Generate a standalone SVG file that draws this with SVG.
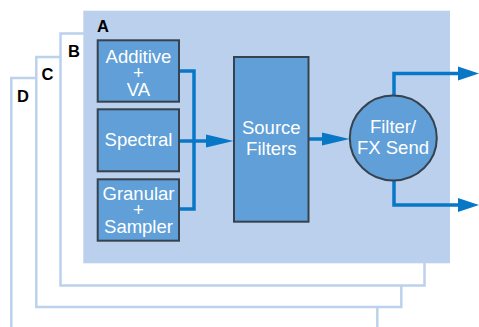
<svg xmlns="http://www.w3.org/2000/svg" width="479" height="327" viewBox="0 0 479 327">
<style>
.panel{fill:#ffffff;stroke:#bcd1ec;stroke-width:2.5}
.lbl{font-family:"Liberation Sans",Arial,sans-serif;font-weight:bold;font-size:16.5px;fill:#000}
.box{fill:#609fd7;stroke:#37424f;stroke-width:2}
.t{font-family:"Liberation Sans",Arial,sans-serif;font-size:18.5px;fill:#ffffff;text-anchor:middle}
.wire{fill:none;stroke:#0877c6;stroke-width:3.5}
.head{fill:#0877c6}
</style>
<rect width="479" height="327" fill="#ffffff"/>
<g id="panelD">
<rect class="panel" x="11.3" y="78" width="366" height="260"/>
<text class="lbl" x="17" y="101.5">D</text>
</g>
<g id="panelC">
<rect class="panel" x="36.3" y="57" width="365" height="250"/>
<text class="lbl" x="41.5" y="80">C</text>
</g>
<g id="panelB">
<rect class="panel" x="60.5" y="33.5" width="364" height="252"/>
<text class="lbl" x="68" y="57.3">B</text>
</g>
<g id="panelA">
<rect x="83.3" y="10.7" width="366.7" height="252.6" fill="#bbd0ec"/>
<text class="lbl" x="97" y="32.3">A</text>
</g>
<g id="connectors">
<path class="wire" d="M180,71 H194 V209 H180"/>
<path class="wire" d="M180,141 H208"/>
<polygon class="head" points="206,134.5 233.5,141 206,147.5"/>
<path class="wire" d="M309,139 H324"/>
<polygon class="head" points="322,132.5 349.5,139 322,145.5"/>
<path class="wire" d="M394,96 V73.5 H460"/>
<polygon class="head" points="458,66.5 479,73.5 458,80.5"/>
<path class="wire" d="M394,180 V205 H460"/>
<polygon class="head" points="458,198 479,205 458,212"/>
</g>
<g id="additive">
<rect class="box" x="97.7" y="40.3" width="81.3" height="61.4"/>
<text class="t" x="138.5" y="62.5">Additive<tspan x="138.5" dy="16.5">+</tspan><tspan x="138.5" dy="16.5">VA</tspan></text>
</g>
<g id="spectral">
<rect class="box" x="97.7" y="109.3" width="81.3" height="62"/>
<text class="t" x="138.5" y="145.5">Spectral</text>
</g>
<g id="granular">
<rect class="box" x="97.7" y="179.3" width="81.3" height="61.4"/>
<text class="t" x="138.5" y="199.5">Granular<tspan x="138.5" dy="16.5">+</tspan><tspan x="138.5" dy="16.5">Sampler</tspan></text>
</g>
<g id="sourceFilters">
<rect class="box" x="234" y="57" width="74.5" height="164.7"/>
<text class="t" x="271.3" y="133.5">Source<tspan x="271.3" dy="21.5">Filters</tspan></text>
</g>
<g id="filterFX">
<ellipse class="box" cx="393.3" cy="138" rx="43.5" ry="42.5" stroke-width="1.5"/>
<text class="t" x="393" y="133">Filter/<tspan x="393" dy="20.5">FX Send</tspan></text>
</g>
</svg>
